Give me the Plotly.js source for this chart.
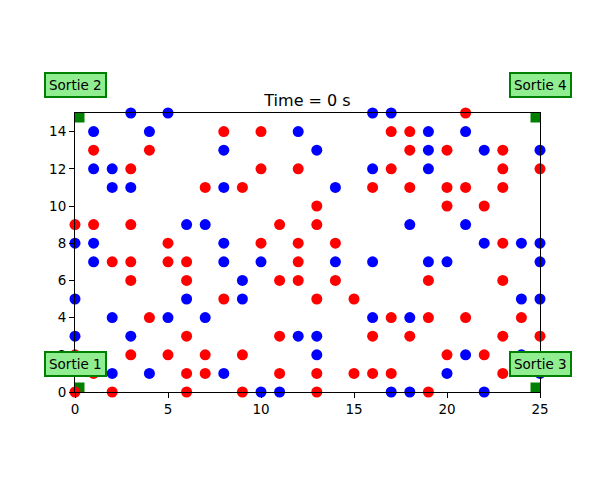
<!DOCTYPE html>
<html>
<head>
<meta charset="utf-8">
<script src="https://cdn.plot.ly/plotly-3.0.1.min.js"></script>
<style>html,body{margin:0;padding:0;background:#fff;}#chart{width:600px;height:500px;}</style>
</head>
<body>
<div id="chart"></div>
<script>
// Red agents
var redX = [21, 8,10,17,18, 1,4,18,20,23, 3,10,12,17,23,25, 7,9,16,18,20,21,23, 13,20,22, 0,1,3,11,13, 5,10,12,14,23, 2,3,5,6,12, 3,6,11,12,14,19,23, 8,13,15, 4,17,19,21,24, 6,11,16,18,23,25, 0,3,5,7,9,20,22, 1,6,7,11,13,15,16,17,23, 0,2,6,9,13,19];
var redY = [15, 14,14,14,14, 13,13,13,13,13, 12,12,12,12,12,12, 11,11,11,11,11,11,11, 10,10,10, 9,9,9,9,9, 8,8,8,8,8, 7,7,7,7,7, 6,6,6,6,6,6,6, 5,5,5, 4,4,4,4,4, 3,3,3,3,3,3, 2,2,2,2,2,2,2, 1,1,1,1,1,1,1,1,1, 0,0,0,0,0,0];
// Blue agents
var blueX = [3,5,16,17, 1,4,12,19,21, 8,13,19,22,25, 1,2,16,19, 2,3,8,14, 6,7,18,21, 0,1,8,22,24,25, 1,8,10,14,16,19,20,25, 9, 0,6,9,24,25, 2,5,7,16,18, 0,3,12,13, 13,21,24, 2,4,8,20,25, 10,11,17,18,22];
var blueY = [15,15,15,15, 14,14,14,14,14, 13,13,13,13,13, 12,12,12,12, 11,11,11,11, 9,9,9,9, 8,8,8,8,8,8, 7,7,7,7,7,7,7,7, 6, 5,5,5,5,5, 4,4,4,4,4, 3,3,3,3, 2,2,2, 1,1,1,1,1, 0,0,0,0,0];
// Exits
var exitX = [0, 0, 25, 25];
var exitY = [0, 15, 0, 15];
var exitLabels = ["Sortie 1", "Sortie 2", "Sortie 3", "Sortie 4"];
var labelY = [1.5, 16.5, 1.5, 16.5];
var titleText = "Time = 0 s";

var font = "DejaVu Sans, sans-serif";
var xRange = [0, 25], yRange = [0, 15];

var traces = [
  {x: exitX, y: exitY, type: "scatter", mode: "markers", cliponaxis: true,
   marker: {symbol: "square", size: 19, color: "#008000"}, hoverinfo: "skip"},
  {x: blueX, y: blueY, type: "scatter", mode: "markers", cliponaxis: false,
   marker: {size: 11, color: "#0000ff", line: {width: 0}}},
  {x: redX, y: redY, type: "scatter", mode: "markers", cliponaxis: false,
   marker: {size: 11, color: "#ff0000", line: {width: 0}}}
];

// labels lie partly outside the axis range, so place them in paper coordinates
var annotations = exitLabels.map(function (t, i) {
  return {
    x: (exitX[i] - xRange[0]) / (xRange[1] - xRange[0]),
    y: (labelY[i] - yRange[0]) / (yRange[1] - yRange[0]),
    xref: "paper", yref: "paper", text: t, showarrow: false,
    xanchor: "center", yanchor: "middle",
    font: {family: font, size: 13.5, color: "#000"},
    bgcolor: "#90EE90", bordercolor: "#008000", borderwidth: 2, borderpad: 3};
});

var axisCommon = {
  showline: true, mirror: true, linecolor: "#000", linewidth: 1,
  ticks: "outside", ticklen: 5, tickwidth: 1, tickcolor: "#000",
  showgrid: false, zeroline: false,
  tickfont: {family: font, size: 13.5, color: "#000"}
};

var layout = {
  width: 600, height: 500,
  margin: {l: 75, r: 60, t: 113, b: 108},
  paper_bgcolor: "#fff", plot_bgcolor: "#fff",
  showlegend: false,
  title: {text: titleText, font: {family: font, size: 16, color: "#000"},
    x: 0.5125, xanchor: "center", y: 0.8, yref: "container", yanchor: "middle"},
  xaxis: Object.assign({}, axisCommon, {range: xRange, tickvals: [0,5,10,15,20,25]}),
  yaxis: Object.assign({}, axisCommon, {range: yRange, tickvals: [0,2,4,6,8,10,12,14]}),
  annotations: annotations
};

Plotly.newPlot("chart", traces, layout, {displayModeBar: false, staticPlot: true});
</script>
</body>
</html>
